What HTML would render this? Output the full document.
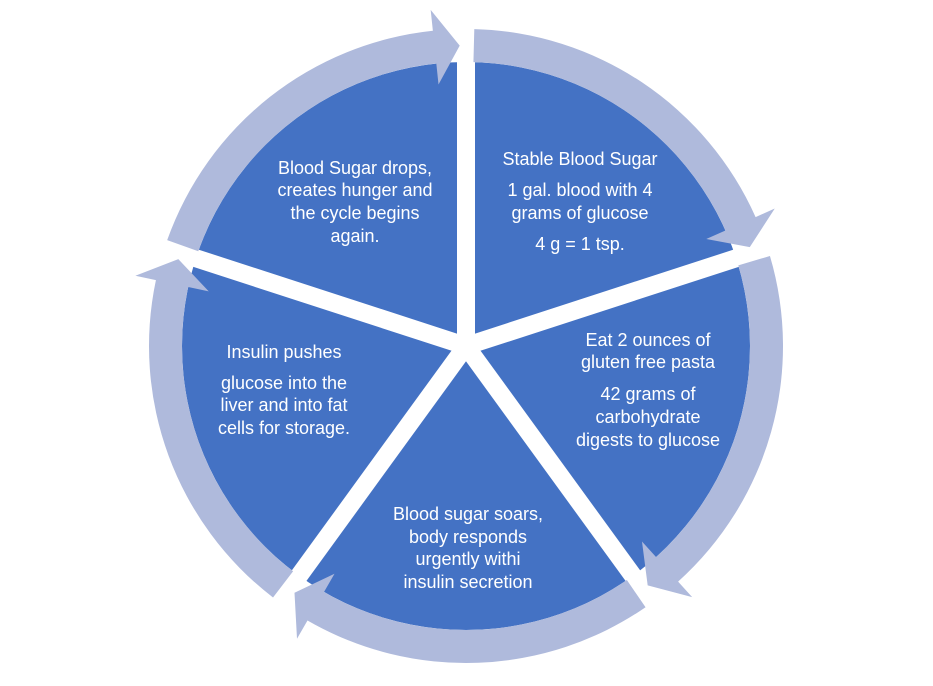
<!DOCTYPE html>
<html><head><meta charset="utf-8"><style>
html,body{margin:0;padding:0;background:#fff;}
svg{display:block;}
text{font-family:"Liberation Sans",sans-serif;font-size:18px;fill:#fff;text-anchor:middle;}
</style></head><body>
<svg id="s" width="933" height="686" viewBox="0 0 933 686" xmlns="http://www.w3.org/2000/svg">
<circle cx="466" cy="346" r="284" fill="#4472C4"/>
<g id="d"></g>
<g id="r"></g>
<text x="580" y="165">Stable Blood Sugar</text>
<text x="580" y="196">1 gal. blood with 4</text>
<text x="580" y="219">grams of glucose</text>
<text x="580" y="250">4 g = 1 tsp.</text>
<text x="648" y="346">Eat 2 ounces of</text>
<text x="648" y="368">gluten free pasta</text>
<text x="648" y="400">42 grams of</text>
<text x="648" y="423">carbohydrate</text>
<text x="648" y="446">digests to glucose</text>
<text x="468" y="520">Blood sugar soars,</text>
<text x="468" y="543">body responds</text>
<text x="468" y="565">urgently withi</text>
<text x="468" y="588">insulin secretion</text>
<text x="284" y="358">Insulin pushes</text>
<text x="284" y="389">glucose into the</text>
<text x="284" y="411">liver and into fat</text>
<text x="284" y="434">cells for storage.</text>
<text x="355" y="174">Blood Sugar drops,</text>
<text x="355" y="196">creates hunger and</text>
<text x="355" y="219">the cycle begins</text>
<text x="355" y="242">again.</text>
</svg>
<script>
var cx=466,cy=346,NS="http://www.w3.org/2000/svg";
function P(a,r){var t=a*Math.PI/180;return [cx+r*Math.sin(t),cy-r*Math.cos(t)];}
var d=document.getElementById("d"),rg=document.getElementById("r");
for(var i=0;i<5;i++){
 var a=72*i,e=P(a,330);
 var l=document.createElementNS(NS,"line");
 l.setAttribute("x1",cx);l.setAttribute("y1",cy);l.setAttribute("x2",e[0]);l.setAttribute("y2",e[1]);
 l.setAttribute("stroke","#fff");l.setAttribute("stroke-width","18");d.appendChild(l);
 var a0=a+1.5,a1=a+66,ro=317,ri=284;
 var p1=P(a0,ro),p2=P(a1,ro),p3=P(a1,ri),p4=P(a0,ri);
 var hb1=P(a1,338),hb2=P(a1,263),tip=P(a+70.8,300.5);
 var s="M"+p1+" A"+ro+" "+ro+" 0 0 1 "+p2+" L"+hb1+" L"+tip+" L"+hb2+" L"+p3+" A"+ri+" "+ri+" 0 0 0 "+p4+"Z";
 var pa=document.createElementNS(NS,"path");pa.setAttribute("d",s.replace(/,/g," "));
 pa.setAttribute("fill","#AFBADC");rg.appendChild(pa);
}
</script>
</body></html>
